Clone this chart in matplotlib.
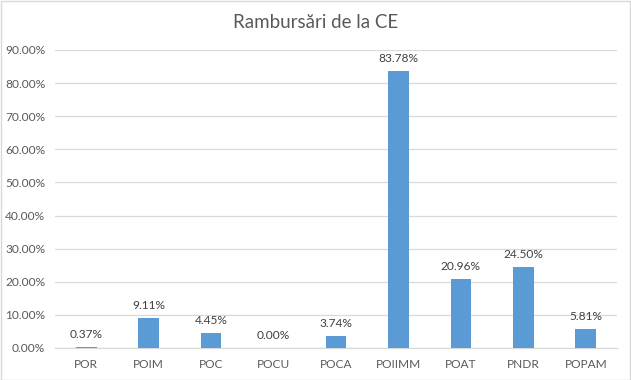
import matplotlib
matplotlib.use("Agg")
import matplotlib.pyplot as plt
from matplotlib.ticker import FuncFormatter, MultipleLocator
from matplotlib.patches import Rectangle

categories = ["POR", "POIM", "POC", "POCU", "POCA", "POIIMM", "POAT", "PNDR", "POPAM"]
values = [0.37, 9.11, 4.45, 0.00, 3.74, 83.78, 20.96, 24.50, 5.81]
title = "Rambursări de la CE"

plt.rcParams['font.family'] = ['Lato', 'DejaVu Sans']
W, H = 631, 380
fig = plt.figure(figsize=(W/100, H/100), dpi=100)
left, right, top, bottom = 55, 617, 50, 348
ax = fig.add_axes([left/W, 1-bottom/H, (right-left)/W, (bottom-top)/H])

x = range(len(categories))
ax.bar(x, values, width=0.33, color="#5B9BD5", zorder=3)
for i, v in zip(x, values):
    ax.annotate(f"{v:.2f}%", (i, v), xytext=(0, 5), textcoords="offset points",
                ha="center", va="bottom", fontsize=8.6, color="#404040")

ax.set_xlim(-0.5, len(categories)-0.5)
ax.set_ylim(0, 90)
ax.yaxis.set_major_locator(MultipleLocator(10))
ax.yaxis.set_major_formatter(FuncFormatter(lambda v, p: f"{v:.2f}%"))
ax.set_xticks(list(x))
ax.set_xticklabels(categories)
ax.tick_params(axis="both", length=0, labelsize=8.6, labelcolor="#595959")
ax.tick_params(axis="y", pad=7)
ax.tick_params(axis="x", pad=8)
ax.grid(axis="y", color="#D9D9D9", linewidth=0.9, zorder=0)
for s in ["top", "right", "left"]:
    ax.spines[s].set_visible(False)
ax.spines["bottom"].set_color("#D9D9D9")
ax.spines["bottom"].set_linewidth(0.9)

fig.text(0.5, 1-22/H, title, ha="center", va="center", fontsize=13.5, color="#595959")
fig.patches.append(Rectangle((0.5/W, 0.5/H), 1-1.5/W, 1-1.5/H, transform=fig.transFigure,
                             fill=False, edgecolor="#D9D9D9", linewidth=1))
fig.savefig("out.png", dpi=100)
